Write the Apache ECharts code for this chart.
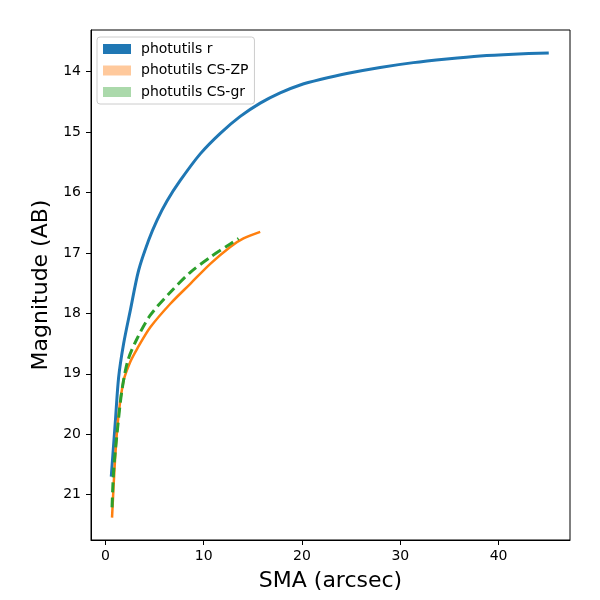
<!DOCTYPE html>
<html style="height: 100%">
  <head>
    <meta charset="utf-8" />
    <title>Magnitude profile</title>
    <script src="https://cdn.jsdelivr.net/npm/echarts@6/dist/echarts.min.js"></script>
  </head>
  <body style="height: 100%; margin: 0; background: #fff">
    <div id="main" style="width: 600px; height: 600px"></div>
    <script type="text/javascript">
      // values (SMA in arcsec, magnitude AB)
      var rSma = [0.6, 1.02, 1.35, 1.86, 2.54, 3.38, 4.4, 5.25, 6.27, 7.62, 9.65, 11.69, 13.72, 15.75, 17.78, 19.82, 21.85, 24.56, 27.95, 31.33, 34.73, 38.11, 41.5, 45.1];
      var rMag = [20.7, 19.78, 19.06, 18.5, 17.95, 17.29, 16.79, 16.46, 16.14, 15.8, 15.36, 15.02, 14.74, 14.52, 14.35, 14.22, 14.13, 14.03, 13.93, 13.85, 13.79, 13.74, 13.71, 13.69];

      var zpSma = [0.68, 1.02, 1.35, 1.86, 2.54, 3.22, 4.57, 6.61, 8.64, 10.67, 12.7, 14.05, 15.75];
      var zpMag = [21.38, 20.33, 19.67, 19.11, 18.8, 18.59, 18.23, 17.84, 17.51, 17.18, 16.9, 16.76, 16.65];

      var grSma = [0.68, 0.84, 1.22, 1.68, 2.29, 3.22, 4.57, 6.61, 8.64, 10.67, 12.7, 13.55];
      var grMag = [21.21, 20.61, 19.94, 19.28, 18.78, 18.42, 18.03, 17.65, 17.32, 17.07, 16.85, 16.76];

      var xTicks = [0, 10, 20, 30, 40];
      var yTicks = [14, 15, 16, 17, 18, 19, 20, 21];

      function pairs(xs, ys) {
        var out = [];
        for (var i = 0; i < xs.length; i++) {
          out.push([xs[i], ys[i]]);
        }
        return out;
      }

      var font = "DejaVu Sans";
      var myChart = echarts.init(document.getElementById("main"));

      var option = {
        animation: false,
        backgroundColor: "#fff",
        grid: {
          left: 91,
          right: 30,
          top: 30,
          bottom: 60,
          show: true,
          borderColor: "#000",
          borderWidth: 1,
        },
        legend: {
          orient: "vertical",
          left: 97,
          top: 37,
          padding: [5, 6, 5, 6],
          itemGap: 7.5,
          itemWidth: 28,
          itemHeight: 10,
          icon: "rect",
          backgroundColor: "rgba(255,255,255,0.8)",
          borderColor: "#cccccc",
          borderWidth: 1,
          borderRadius: 3,
          selectedMode: false,
          textStyle: { fontFamily: font, fontSize: 14, color: "#000", lineHeight: 14, padding: [0, 0, 0, 5] },
          data: [
            { name: "photutils r", itemStyle: { color: "#1f77b4" } },
            { name: "photutils CS-ZP", itemStyle: { color: "#ffc99c" } },
            { name: "photutils CS-gr", itemStyle: { color: "#abd9ab" } },
          ],
        },
        xAxis: {
          type: "value",
          min: -1.46,
          max: 47.26,
          name: "SMA (arcsec)",
          nameLocation: "middle",
          nameGap: 30,
          nameTextStyle: { fontFamily: font, fontSize: 22, color: "#000" },
          axisLine: { onZero: false, lineStyle: { color: "#000", width: 1 } },
          axisTick: { inside: false, length: 5, customValues: xTicks, lineStyle: { color: "#000" } },
          axisLabel: { customValues: xTicks, margin: 9, fontFamily: font, fontSize: 14, color: "#000" },
          splitLine: { show: false },
        },
        yAxis: {
          type: "value",
          inverse: true,
          min: 13.31,
          max: 21.75,
          name: "Magnitude (AB)",
          nameLocation: "middle",
          nameGap: 38,
          nameTextStyle: { fontFamily: font, fontSize: 22, color: "#000" },
          axisLine: { show: true, onZero: false, lineStyle: { color: "#000", width: 1 } },
          axisTick: { show: true, length: 5, customValues: yTicks, lineStyle: { color: "#000" } },
          axisLabel: { customValues: yTicks, margin: 10, fontFamily: font, fontSize: 14, color: "#000" },
          splitLine: { show: false },
        },
        series: [
          {
            name: "photutils r",
            type: "line",
            data: pairs(rSma, rMag),
            showSymbol: false,
            smooth: 0.3,
            lineStyle: { color: "#1f77b4", width: 3 },
            itemStyle: { color: "#1f77b4" },
          },
          {
            name: "photutils CS-ZP",
            type: "line",
            data: pairs(zpSma, zpMag),
            showSymbol: false,
            smooth: 0.3,
            lineStyle: { color: "#ff7f0e", width: 2.5 },
            itemStyle: { color: "#ff7f0e" },
          },
          {
            name: "photutils CS-gr",
            type: "line",
            data: pairs(grSma, grMag),
            showSymbol: false,
            smooth: 0.3,
            lineStyle: { color: "#2ca02c", width: 3, type: [10, 5] },
            itemStyle: { color: "#2ca02c" },
          },
        ],
      };

      myChart.setOption(option);
    </script>
  </body>
</html>
